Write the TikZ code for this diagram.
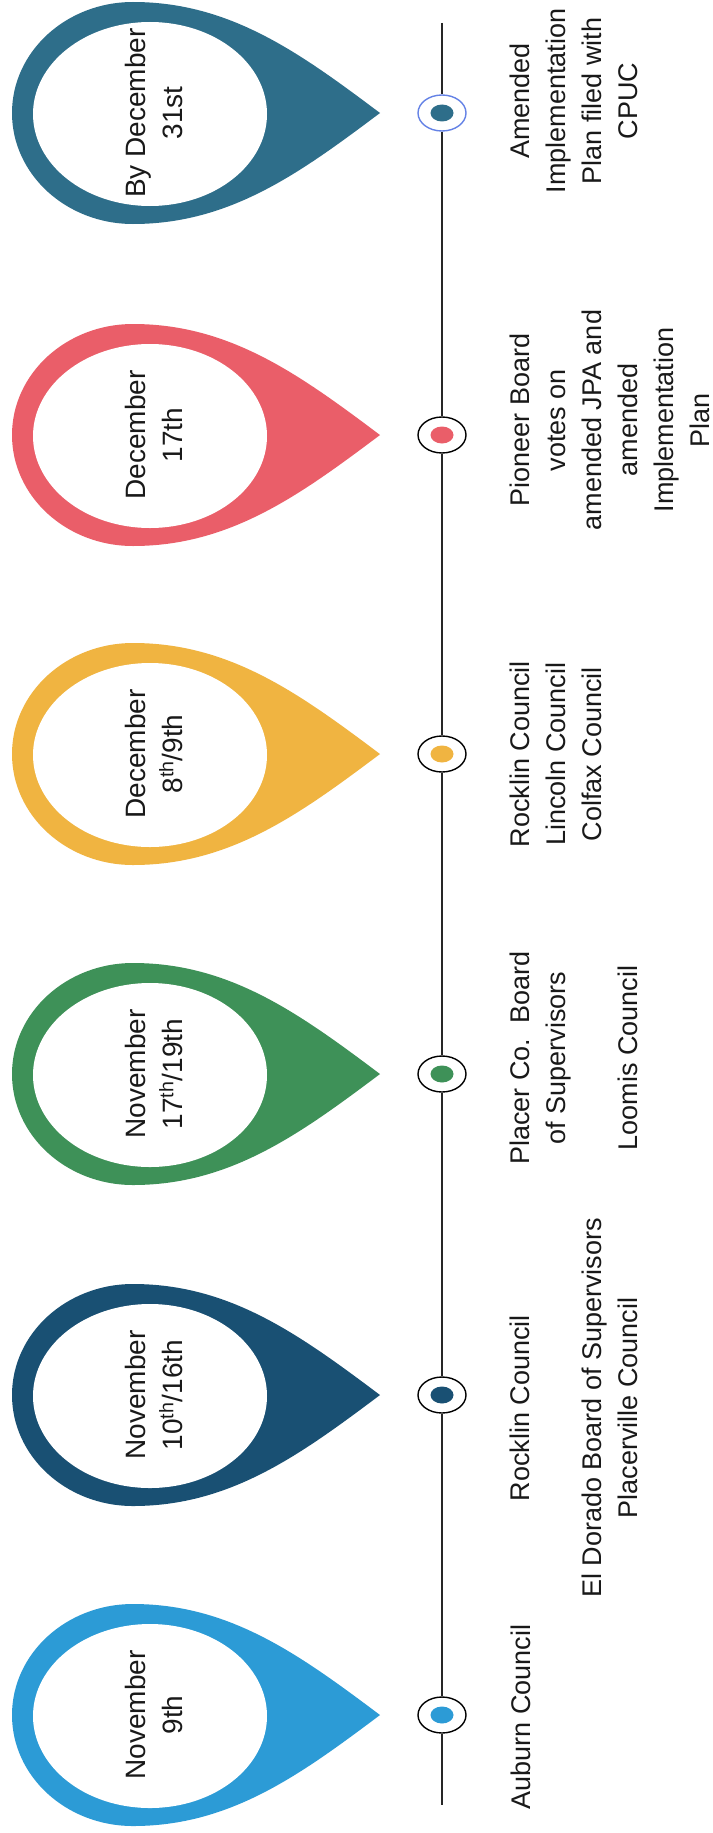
\documentclass[tikz,border=0pt]{standalone}
\usepackage{fontspec}
\setmainfont{Liberation Sans}
\usetikzlibrary{shapes.geometric}
\definecolor{cA}{RGB}{44,155,214}
\definecolor{cB}{RGB}{25,80,115}
\definecolor{cC}{RGB}{62,145,88}
\definecolor{cD}{RGB}{240,180,65}
\definecolor{cE}{RGB}{234,94,105}
\definecolor{cF}{RGB}{46,110,138}
\definecolor{ringblue}{RGB}{100,130,230}
\definecolor{txt}{RGB}{25,25,25}
\tikzset{
  ring/.style={ellipse, draw=black, line width=1.4pt, fill=white, minimum width=48pt, minimum height=36pt, inner sep=0pt},
  dotin/.style={ellipse, minimum width=23pt, minimum height=17pt, inner sep=0pt, draw=none},
  pintext/.style={rotate=90, align=center, inner sep=0pt, text=txt, font=\fontsize{28}{37}\selectfont},
  evtext/.style={rotate=90, align=center, inner sep=0pt, text=txt, font=\fontsize{27}{36}\selectfont},
  timeline/.style={line width=1.8pt, draw=black!85},
}
\newcommand{\drawpin}[2]{%
  \fill[#2] (380,#1) .. controls (300,#1-60) and (230,#1-111) .. (133,#1-111)
    arc[start angle=270, end angle=90, x radius=121, y radius=111]
    .. controls (230,#1+111) and (300,#1+60) .. (380,#1) -- cycle;
  \fill[white] (150,#1+1) ellipse[x radius=117, y radius=92];
}
\begin{document}
\begin{tikzpicture}[x=1pt, y=-1pt]
\fill[white] (0,0) rectangle (712,1833);
\useasboundingbox (0,0) rectangle (712,1833);

% pins
\drawpin{113}{cF}
\drawpin{435}{cE}
\drawpin{754}{cD}
\drawpin{1074}{cC}
\drawpin{1395}{cB}
\drawpin{1715}{cA}

% pin labels
\node[pintext] (p6) at (154,113) {By December\\31st};
\node[pintext] (p5) at (154,435) {December\\17th};
\node[pintext] (p4) at (154,754) {December\\8\textsuperscript{th}/9th};
\node[pintext] (p3) at (154,1074) {November\\17\textsuperscript{th}/19th};
\node[pintext] (p2) at (154,1395) {November\\10\textsuperscript{th}/16th};
\node[pintext] (p1) at (154,1715) {November\\9th};

% rings
\node[ring, draw=ringblue] (r6) at (442,113) {};
\node[ring] (r5) at (442,435) {};
\node[ring] (r4) at (442,754) {};
\node[ring] (r3) at (442,1074) {};
\node[ring] (r2) at (442,1395) {};
\node[ring] (r1) at (442,1715) {};

\node[dotin, fill=cF] (d6) at (r6) {};
\node[dotin, fill=cE] (d5) at (r5) {};
\node[dotin, fill=cD] (d4) at (r4) {};
\node[dotin, fill=cC] (d3) at (r3) {};
\node[dotin, fill=cB] (d2) at (r2) {};
\node[dotin, fill=cA] (d1) at (r1) {};

% timeline
\coordinate (ltop) at (442,23);
\coordinate (lbot) at (442,1805);
\draw[timeline] (ltop) -- (r6);
\draw[timeline] (r6) -- (r5);
\draw[timeline] (r5) -- (r4);
\draw[timeline] (r4) -- (r3);
\draw[timeline] (r3) -- (r2);
\draw[timeline] (r2) -- (r1);
\draw[timeline] (r1) -- (lbot);

% event texts
\node[evtext] (e6) at (574,101) {Amended\\Implementation\\Plan filed with\\CPUC};
\node[evtext] (e5) at (610,420) {Pioneer Board\\votes on\\amended JPA and\\amended\\Implementation\\Plan};
\node[evtext] (e4) at (556,754) {Rocklin Council\\Lincoln Council\\Colfax Council};
\node[evtext] (e3) at (574,1058) {Placer Co.\ \ Board\\of Supervisors\\\mbox{}\\Loomis Council};
\node[evtext] (e2) at (574,1408) {Rocklin Council\\\mbox{}\\El Dorado Board of Supervisors\\Placerville Council};
\node[evtext] (e1) at (521,1717) {Auburn Council};
\end{tikzpicture}
\end{document}
